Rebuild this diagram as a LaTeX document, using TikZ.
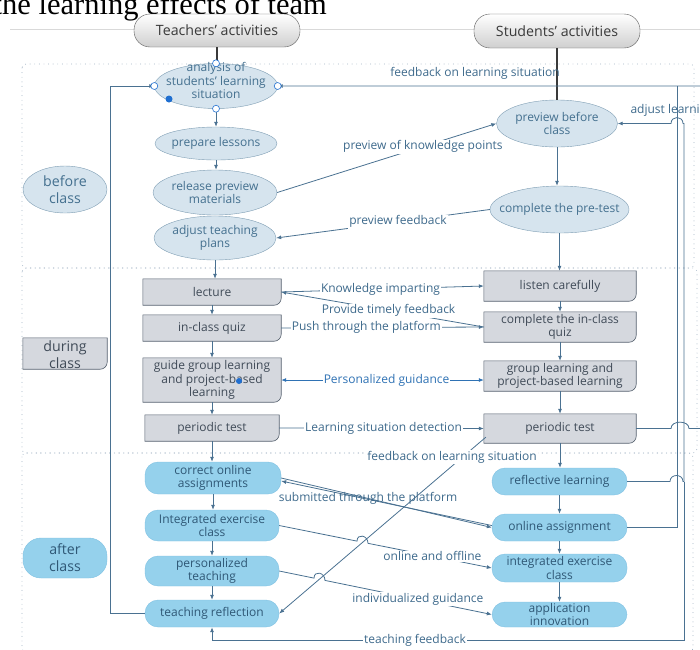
\documentclass[tikz,border=0pt]{standalone}
\usepackage{fontspec}
\setmainfont{Open Sans}
\newfontfamily\captionserif{Liberation Serif}
\usetikzlibrary{
    arrows.meta,
    shapes.geometric,
    backgrounds,
    calc
}
\definecolor{flow blue}{HTML}{4A7191}
\definecolor{label text}{HTML}{3E6A8C}
\definecolor{strong blue}{HTML}{2F72B4}
\definecolor{ellipse fill}{HTML}{D6E4EE}
\definecolor{ellipse border}{HTML}{7E9DB3}
\definecolor{ellipse text}{HTML}{44708F}
\definecolor{during fill}{HTML}{D5D8DE}
\definecolor{during border}{HTML}{55606D}
\definecolor{during text}{HTML}{404B58}
\definecolor{after fill}{HTML}{95D1EC}
\definecolor{after border}{HTML}{7FC1E2}
\definecolor{after text}{HTML}{2F5876}
\definecolor{header border}{HTML}{5A5A5A}
\definecolor{header shade}{HTML}{CFCFCF}
\definecolor{header text}{HTML}{3A3A3A}
\definecolor{region dots}{HTML}{8DA2B7}
\definecolor{guide gray}{HTML}{D9D9D9}
\definecolor{handle blue}{HTML}{1F6FD1}
\newcommand{\diagfont}{\fontsize{12}{13.6}\selectfont}
\newcommand{\bigdiagfont}{\fontsize{14.2}{17}\selectfont}
\tikzset{
    % Nodes
    base node/.style={inner sep=1pt, align=center, font=\diagfont},
    header/.style={base node, rectangle, rounded corners=16pt, draw=header border,
        top color=white, bottom color=header shade, text=header text,
        font=\bigdiagfont, minimum width=166pt, minimum height=33pt},
    before node/.style={ellipse, draw=ellipse border, fill=ellipse fill, inner sep=0pt},
    before text/.style={base node, text=ellipse text},
    during node/.style={base node, rectangle, text=during text},
    during frame/.style={draw=during border, fill=during fill, line width=.6pt},
    after node/.style={base node, rectangle, rounded corners=13pt, draw=after border,
        fill=after fill, text=after text},
    section text/.style={base node, font=\bigdiagfont},
    caption/.style={font=\captionserif\fontsize{30.5}{34}\selectfont, inner sep=0pt},
    %
    % Frames and marks
    region/.style={draw=region dots, line width=.9pt, line cap=round,
        dash pattern=on 0pt off 4.6pt, rounded corners=4pt},
    guide line/.style={draw=guide gray, line width=.7pt},
    header line/.style={draw=header text, line width=1.3pt},
    handle/.style={draw=handle blue, fill=white, line width=.6pt},
    %
    % Arrows
    arrow tip/.tip={Latex[length=5pt,width=4pt]},
    flow/.style={draw=flow blue, line width=.8pt},
    arr/.style={flow, ->, >={arrow tip}},
    twoarr/.style={flow, <->, >={arrow tip}},
    link label/.style={fill=white, inner sep=1pt, text=label text, font=\diagfont}
}

\begin{document}
\begin{tikzpicture}[x=1pt, y=-1pt]
    \useasboundingbox (0,0) rectangle (700,649);
    \node[caption, anchor=base east] (caption) at (327,14) {the learning effects of team};

    % headers
    \node[header] (thdr) at (217,30.5) {Teachers' activities};
    \node[header, minimum height=34pt] (shdr) at (557,31) {Students' activities};

    % before class
    \node[before node, minimum width=84pt, minimum height=47pt] (before) at (65,189.5) {};
    \node[before node, minimum width=123pt, minimum height=45pt] (ana) at (216,86) {};
    \node[before node, minimum width=122pt, minimum height=33pt] (prep) at (216,143.5) {};
    \node[before node, minimum width=124pt, minimum height=45pt] (rel) at (215,192.5) {};
    \node[before node, minimum width=122pt, minimum height=44pt] (adj) at (215,238) {};
    \node[before node, minimum width=121pt, minimum height=47pt] (prev) at (557,123.5) {};
    \node[before node, minimum width=139pt, minimum height=47pt] (pret) at (559.5,209.5) {};
    \node[before text] (ana-t) at (216,80.5) {analysis of\\students' learning\\situation};
    \foreach \n/\t in {prep/{prepare lessons}, rel/{release preview\\materials},
        adj/{adjust teaching\\plans}, prev/{preview before\\class}, pret/{complete the pre-test}}
        \node[before text] (\n-t) at (\n) {\t};
    \node[section text, text=ellipse text] (before-t) at (before) {before\\class};

    % during class
    \node[during node, minimum width=84pt, minimum height=31pt] (during) at (65,353.5) {};
    \node[section text, text=during text] (during-t) at (65,355) {during\\class};
    \node[during node, minimum width=138pt, minimum height=26pt] (lec) at (212,292) {lecture};
    \node[during node, minimum width=138pt, minimum height=26pt] (tquiz) at (212,328) {in-class quiz};
    \node[during node, minimum width=138pt, minimum height=44pt] (guide) at (212,380) {guide group learning\\and project-based\\learning};
    \node[during node, minimum width=134pt, minimum height=26pt] (ttest) at (212,428) {periodic test};
    \node[during node, minimum width=152pt, minimum height=30pt] (listen) at (560,286) {listen carefully};
    \node[during node, minimum width=152pt, minimum height=30pt] (squiz) at (560,327) {complete the in-class\\quiz};
    \node[during node, minimum width=152pt, minimum height=30pt] (group) at (560,376) {group learning and\\project-based learning};
    \node[during node, minimum width=152pt, minimum height=29pt] (stest) at (560,428.5) {periodic test};

    % after class
    \node[after node, minimum width=84pt, minimum height=40pt, font=\bigdiagfont, rounded corners=18pt] (after) at (65,558) {after\\class};
    \node[after node, minimum width=136pt, minimum height=32pt] (corr) at (213,478) {correct online\\assignments};
    \node[after node, minimum width=134pt, minimum height=31pt] (tint) at (212,525.5) {Integrated exercise\\class};
    \node[after node, minimum width=134pt, minimum height=30pt] (pers) at (212,571) {personalized\\teaching};
    \node[after node, minimum width=134pt, minimum height=27pt] (refl) at (212,613.5) {teaching reflection};
    \node[after node, minimum width=135pt, minimum height=27pt] (sref) at (559.5,481.5) {reflective learning};
    \node[after node, minimum width=135pt, minimum height=27pt] (onl) at (559.5,527.5) {online assignment};
    \node[after node, minimum width=135pt, minimum height=28pt] (sint) at (559.5,568) {integrated exercise\\class};
    \node[after node, minimum width=135pt, minimum height=25pt] (app) at (559.5,614.5) {application\\innovation};

    \begin{scope}[on background layer]
        \draw[region] (22,64) rectangle (694,268);
        \draw[region] (22,268) rectangle (697,453);
        \draw[region] (22,453) rectangle (693,652);
        \draw[guide line] (10,29) -- (700,29);
        \foreach \n in {lec,tquiz,guide,ttest,listen,squiz,group,stest,during}
            \draw[during frame] (\n.west) -- (\n.north west) -- (\n.north east) [rounded corners=7pt]
                -- (\n.south east) [sharp corners] -- (\n.south west) [rounded corners=7pt] -- cycle;
    \end{scope}

    % columns
    \draw[header line] (thdr.south) -- (thdr.south |- ana.north);
    \draw[header line] (shdr.south) -- (shdr.south |- prev.north);
    \foreach \a/\b in {ana/prep,prep/rel,adj/lec,lec/tquiz,tquiz/guide,guide/ttest,ttest/corr,
        corr/tint,tint/pers,pers/refl,prev/pret,pret/listen,listen/squiz,squiz/group,
        group/stest,stest/sref,sref/onl,onl/sint,sint/app}
        \draw[arr] (\a.south) -- (\a.south |- \b.north);

    % rails
    \coordinate (left rail) at (110,0);
    \coordinate (rail a) at (677,0);
    \coordinate (rail b) at (684,0);
    \coordinate (rail c) at (703,0);
    \coordinate (sref join) at (684,481.5);

    \draw[arr] (refl.west) -| (left rail |- ana.west) -- (ana.west);
    \draw[flow] (onl.east) -| (rail a |- ana.east);
    \draw[arr] (stest.east) -- (671,428.5) .. controls (671,420) and (689,420) .. (689,428.5)
        -- (rail c |- stest.east) |- (ana.east);
    \node[text=label text, font=\diagfont] (fb top) at (475,73) {feedback on learning situation};
    \draw[flow] (sref.east) -- (670,481.5) .. controls (670,473.5) and (683,473.5) .. (683,481.5) -- (sref join);
    \draw[arr] (sref join) -- (rail b |- prev.east) -- (683,123.5)
        .. controls (683,115.5) and (671,115.5) .. (671,123.5) -- (prev.east);
    \node[text=label text, font=\diagfont, anchor=west] (adjust) at (627,110) {adjust learning};
    \draw[arr] (sref join) |- ($(refl.south)+(0,13)$) -- (refl.south);
    \node[link label] (teach fb) at (415,640) {teaching feedback};

    % links between the columns
    \draw[arr] (rel.east) -- node[pos=.665, link label] {preview of knowledge points} (prev.west);
    \draw[arr] (pret.west) -- node[pos=.43, link label] {preview feedback} (adj.east);
    \draw[arr] (lec.east) -- node[pos=.49, link label] {Knowledge imparting} (listen.west);
    \draw[arr] (squiz.west) -- node[pos=.47, link label] {Provide timely feedback} (lec.east);
    \draw[arr] (tquiz.east) -- node[pos=.42, link label] {Push through the platform} (squiz.west);
    \draw[twoarr, draw=strong blue] (guide.east) -- node[pos=.52, link label, text=strong blue] {Personalized guidance} (guide.east -| group.west);
    \draw[arr] (ttest.east) -- node[pos=.51, link label] {Learning situation detection} (stest.west);

    \draw[arr] (corr.east) -- (onl.west);
    \draw[arr] ([yshift=2pt]onl.west) -- ([yshift=-3pt]corr.east);
    \node[text=label text, font=\diagfont, inner sep=1pt] (submit) at (368,498) {submitted through the platform};
    \draw[arr] (tint.east) -- (357,541.1) .. controls (357,533) and (368,535.2) .. (368,543.3)
        -- node[pos=.52, link label] {online and offline} (sint.west);
    \draw[arr] (pers.east) -- (314,578.1) .. controls (314,570) and (325,572.3) .. (325,580.4)
        -- node[pos=.557, link label] {individualized guidance} (app.west);
    \draw[arr] ([xshift=2pt,yshift=6pt]stest.south west) -- (refl.east);
    \node[link label] (fb low) at (452,457) {feedback on learning situation};

    % selection handles
    \foreach \a in {north,west,east,south}
        \draw[handle] (ana.\a) circle[radius=3.5pt];
    \fill[handle blue] (169,99) circle[radius=3.5pt];
    \fill[handle blue] (239,381) circle[radius=3pt];
\end{tikzpicture}
\end{document}
